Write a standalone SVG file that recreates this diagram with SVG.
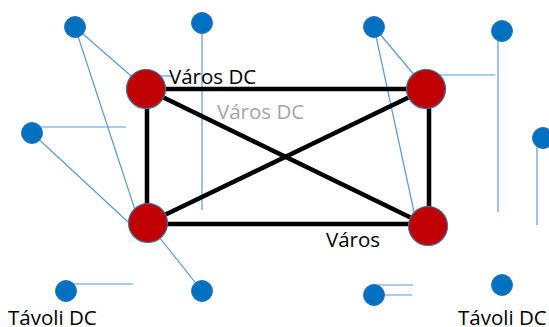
<svg xmlns="http://www.w3.org/2000/svg" width="549" height="327" viewBox="0 0 549 327">
<style>
.thin{stroke:#5B9BD5;stroke-width:1.2;fill:none}
.thick{stroke:#000;stroke-width:4.5;fill:none}
.dc{fill:#C00000;stroke:#41719C;stroke-width:1.2}
.leaf{fill:#0070C0;stroke:#2E75B6;stroke-width:1}
.lbl{font-family:"Open Sans","Liberation Sans",sans-serif;font-size:20.5px;fill:#000}
.gray{fill:#A6A6A6}
</style>
<rect width="549" height="327" fill="#fff"/>
<g id="connectors">
<line class="thin" x1="75" y1="27" x2="146" y2="89"/>
<line class="thin" x1="75" y1="27" x2="136" y2="213"/>
<line class="thin" x1="202" y1="23" x2="202" y2="210"/>
<line class="thin" x1="32" y1="127" x2="126" y2="127"/>
<line class="thin" x1="32" y1="133" x2="128" y2="222"/>
<line class="thin" x1="148" y1="223" x2="202" y2="291"/>
<line class="thin" x1="66" y1="284" x2="133" y2="284"/>
<line class="thin" x1="146" y1="76" x2="174" y2="76"/>
<line class="thin" x1="374" y1="27" x2="426" y2="89"/>
<line class="thin" x1="374" y1="27" x2="414" y2="212"/>
<line class="thin" x1="426" y1="75" x2="495" y2="75"/>
<line class="thin" x1="498" y1="31" x2="498" y2="212"/>
<line class="thin" x1="537" y1="138" x2="537" y2="225"/>
<line class="thin" x1="374" y1="285" x2="413" y2="285"/>
<line class="thin" x1="374" y1="295" x2="412" y2="295"/>
<line class="thick" x1="146" y1="89" x2="426" y2="89"/>
<line class="thick" x1="147" y1="89" x2="147" y2="223"/>
<line class="thick" x1="148" y1="224" x2="428" y2="224"/>
<line class="thick" x1="429" y1="89" x2="429" y2="226"/>
<line class="thick" x1="146" y1="89" x2="428" y2="226"/>
<line class="thick" x1="148" y1="223" x2="426" y2="89"/>
</g>
<g id="dc-tl"><circle class="dc" cx="146" cy="89" r="19.5"/></g>
<g id="dc-tr"><circle class="dc" cx="426" cy="89" r="19.5"/></g>
<g id="dc-bl"><circle class="dc" cx="148" cy="223" r="19.5"/></g>
<g id="dc-br"><circle class="dc" cx="428" cy="226" r="19.5"/></g>
<g id="n1"><circle class="leaf" cx="75" cy="27" r="10.5"/></g>
<g id="n2"><circle class="leaf" cx="202" cy="23" r="10.5"/></g>
<g id="n3"><circle class="leaf" cx="32" cy="133" r="10.5"/></g>
<g id="n4"><circle class="leaf" cx="374" cy="27" r="10.5"/></g>
<g id="n5"><circle class="leaf" cx="502" cy="31" r="10.5"/></g>
<g id="n6"><circle class="leaf" cx="543" cy="138" r="10.5"/></g>
<g id="n7"><circle class="leaf" cx="66" cy="291" r="10.5"/></g>
<g id="n8"><circle class="leaf" cx="202" cy="291" r="10.5"/></g>
<g id="n9"><circle class="leaf" cx="374" cy="295" r="10.5"/></g>
<g id="n10"><circle class="leaf" cx="502" cy="285" r="10.5"/></g>
<g id="labels">
<text class="lbl" x="169" y="84">Város DC</text>
<text class="lbl gray" x="217" y="119">Város DC</text>
<text class="lbl" x="326" y="247">Város</text>
<text class="lbl" x="8" y="325">Távoli DC</text>
<text class="lbl" x="458" y="325">Távoli DC</text>
</g>
</svg>
